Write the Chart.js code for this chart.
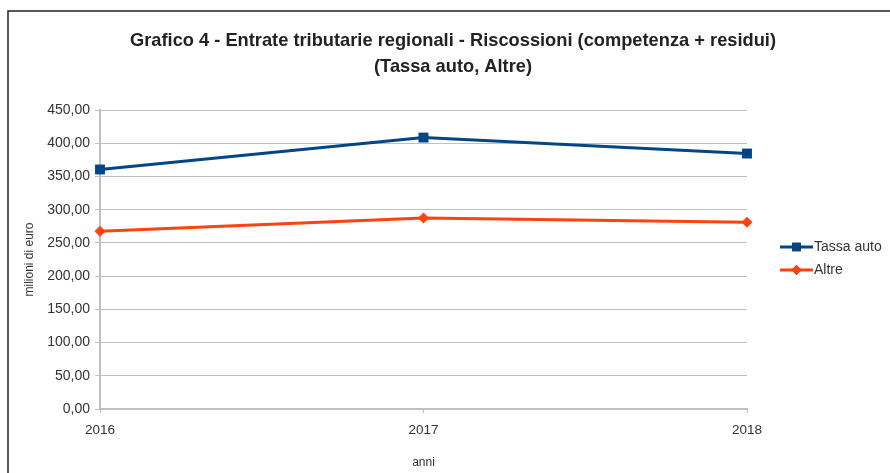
<!DOCTYPE html>
<html>
<head>
<meta charset="utf-8">
<script src="https://cdn.jsdelivr.net/npm/chart.js@4/dist/chart.umd.min.js"></script>
<style>
html,body{margin:0;padding:0;background:#fff;}
#wrap{width:890px;height:473px;position:relative;}
</style>
</head>
<body>
<div id="wrap"><canvas id="c" width="890" height="473"></canvas></div>
<script>
const categories = ["2016", "2017", "2018"];
const tassaAuto = [360.5, 408.5, 384.5];
const altre = [267.5, 287.5, 281.0];
const yTicks = [0, 50, 100, 150, 200, 250, 300, 350, 400, 450];
const titleLines = ["Grafico 4 - Entrate tributarie regionali - Riscossioni (competenza + residui)", "(Tassa auto, Altre)"];
const seriesNames = ["Tassa auto", "Altre"];
const xTitle = "anni";
const yTitle = "milioni di euro";

const BLUE = "#004586";
const ORANGE = "#ff420e";
const TEXT = "#333333";
const GRID = "#c0c0c0";
const FONT = "'Liberation Sans', Arial, sans-serif";

const decorPlugin = {
  id: "decor",
  beforeDraw(chart) {
    const ctx = chart.ctx;
    ctx.save();
    ctx.strokeStyle = "#222";
    ctx.lineWidth = 1.5;
    ctx.beginPath();
    ctx.moveTo(8, 473);
    ctx.lineTo(8, 11);
    ctx.lineTo(890, 11);
    ctx.stroke();
    ctx.restore();
    // title (condensed bold, scaled horizontally to the reference width)
    ctx.save();
    ctx.fillStyle = "#222";
    ctx.textAlign = "center";
    ctx.textBaseline = "middle";
    ctx.font = "bold 19px " + FONT;
    const w0 = ctx.measureText(titleLines[0]).width;
    const sx = 646 / w0;
    ctx.translate(453, 0);
    ctx.scale(sx, 1);
    ctx.fillText(titleLines[0], 0, 41);
    ctx.fillText(titleLines[1], 0, 67);
    ctx.restore();
  },
  afterDraw(chart) {
    const ctx = chart.ctx;
    ctx.save();
    const items = [
      {ds: chart.data.datasets[0], y: 247},
      {ds: chart.data.datasets[1], y: 270}
    ];
    items.forEach(it => {
      ctx.strokeStyle = it.ds.borderColor;
      ctx.lineWidth = 3;
      ctx.beginPath();
      ctx.moveTo(780, it.y);
      ctx.lineTo(813, it.y);
      ctx.stroke();
      Chart.helpers.drawPoint(ctx, {
        pointStyle: it.ds.pointStyle,
        radius: it.ds.pointStyle === 'rect' ? 6 : 5,
        rotation: 0,
        borderWidth: 0
      }, 796.5, it.y);
      ctx.fillStyle = it.ds.borderColor;
      ctx.fill();
      ctx.fillStyle = TEXT;
      ctx.font = "14px " + FONT;
      ctx.textAlign = "left";
      ctx.textBaseline = "middle";
      ctx.fillText(it.ds.label, 814, it.y);
    });
    ctx.restore();
  }
};

new Chart(document.getElementById("c"), {
  type: "line",
  data: {
    labels: categories,
    datasets: [
      {
        label: seriesNames[0],
        data: tassaAuto,
        borderColor: BLUE,
        backgroundColor: BLUE,
        borderWidth: 3,
        pointStyle: "rect",
        pointRadius: 7,
        pointBorderWidth: 0,
        tension: 0
      },
      {
        label: seriesNames[1],
        data: altre,
        borderColor: ORANGE,
        backgroundColor: ORANGE,
        borderWidth: 3,
        pointStyle: "rectRot",
        pointRadius: 5.5,
        pointBorderWidth: 0,
        tension: 0
      }
    ]
  },
  options: {
    responsive: false,
    animation: false,
    devicePixelRatio: 1,
    layout: { padding: { left: 22, top: 110, right: 143, bottom: 3 } },
    plugins: {
      legend: { display: false },
      title: { display: false },
      tooltip: { enabled: false }
    },
    scales: {
      x: {
        offset: false,
        grid: { display: true, drawOnChartArea: false, drawTicks: true, tickLength: 4, color: GRID, lineWidth: 1 },
        border: { display: true, color: GRID, width: 2 },
        ticks: { color: TEXT, font: { family: FONT, size: 13.5 }, padding: 9, maxRotation: 0 },
        title: { display: true, text: xTitle, color: TEXT, font: { family: FONT, size: 12 }, padding: { top: 4, bottom: 0 } },
        afterFit(scale) { scale.height = 61; }
      },
      y: {
        min: 0,
        max: 450,
        afterBuildTicks(scale) { scale.ticks = yTicks.map(v => ({ value: v })); },
        grid: { color: GRID, lineWidth: 1, tickLength: 5, drawTicks: true },
        border: { display: true, color: GRID, width: 2 },
        ticks: {
          color: TEXT,
          font: { family: FONT, size: 14 },
          padding: 5,
          callback: v => v.toFixed(2).replace(".", ",")
        },
        title: { display: true, text: yTitle, color: TEXT, font: { family: FONT, size: 12 }, padding: { top: 0, bottom: 4 } },
        afterFit(scale) { scale.width = 78; }
      }
    }
  },
  plugins: [decorPlugin]
});
</script>
</body>
</html>
